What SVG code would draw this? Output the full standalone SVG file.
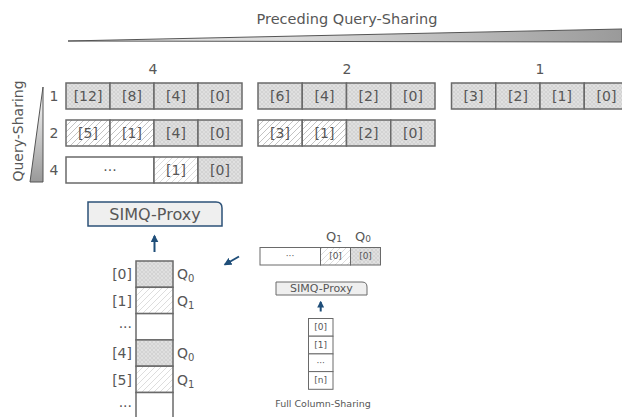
<svg xmlns="http://www.w3.org/2000/svg" width="622" height="417" viewBox="0 0 622 417">
  <defs>
    <pattern id="dots" width="4" height="4" patternUnits="userSpaceOnUse">
      <rect width="4" height="4" fill="#dedede"/>
      <circle cx="2" cy="2" r="1.3" fill="#f5f5f5" stroke="#b4b4b4" stroke-width="0.5"/>
    </pattern>
    <pattern id="hatch" width="6" height="6" patternUnits="userSpaceOnUse">
      <rect width="6" height="6" fill="#ffffff"/>
      <path d="M-1,7 L7,-1 M-1,1 L1,-1 M5,7 L7,5" stroke="#b4b4b4" stroke-width="0.8"/>
    </pattern>
    <pattern id="hatchLight" width="6" height="6" patternUnits="userSpaceOnUse">
      <rect width="6" height="6" fill="#ffffff"/>
      <path d="M-1,7 L7,-1 M-1,1 L1,-1 M5,7 L7,5" stroke="#d4d4d4" stroke-width="0.8"/>
    </pattern>
    <linearGradient id="wedgeH" x1="0" y1="0" x2="1" y2="0">
      <stop offset="0" stop-color="#e6e6e6"/>
      <stop offset="0.4" stop-color="#dcdcdc"/>
      <stop offset="1" stop-color="#9a9a9a"/>
    </linearGradient>
    <linearGradient id="wedgeV" x1="0" y1="0" x2="0" y2="1">
      <stop offset="0" stop-color="#ffffff"/>
      <stop offset="1" stop-color="#999999"/>
    </linearGradient>
    <marker id="arrow" viewBox="0 0 10 10" refX="8" refY="5" markerWidth="4" markerHeight="4" orient="auto">
      <path d="M0,0 L10,5 L0,10 z" fill="#1f4e79"/>
    </marker>
    <marker id="arrowSmall" viewBox="0 0 10 10" refX="8" refY="5" markerWidth="3.5" markerHeight="3.5" orient="auto">
      <path d="M0,0 L10,5 L0,10 z" fill="#1f4e79"/>
    </marker>
  </defs>
  <style>
    text { font-family: "DejaVu Sans", "Liberation Sans", sans-serif; fill: #575757; }
    .lbl { font-size: 14px; text-anchor: middle; dominant-baseline: central; }
    .sm { font-size: 9px; text-anchor: middle; dominant-baseline: central; }
    .end { text-anchor: end; }
    .start { text-anchor: start; }
    .cell { stroke: #6a6a6a; stroke-width: 1.5; }
    .cellS { stroke: #6a6a6a; stroke-width: 1; }
    .d { fill: url(#dots); }
    .h { fill: url(#hatch); }
    .hl { fill: url(#hatchLight); }
    .w { fill: #ffffff; }
    .proxy { fill: #efefef; stroke: #2d5278; stroke-width: 1.5; }
    .proxyS { fill: #efefef; stroke: #6a6a6a; stroke-width: 1; }
    .conn { stroke: #1f4e79; stroke-width: 2; fill: none; }
  </style>

  <!-- header: preceding query-sharing wedge -->
  <g id="header">
    <text x="347" y="19" class="lbl" style="font-size:14.5px">Preceding Query-Sharing</text>
    <path d="M68,41 L622,29 L622,42 Z" fill="url(#wedgeH)" stroke="#555555" stroke-width="1"/>
  </g>

  <!-- side axis: query-sharing wedge -->
  <g id="axis">
    <text x="18" y="131" class="lbl" transform="rotate(-90 18 131)">Query-Sharing</text>
    <path d="M43,87 L43,182 L30,182 Z" fill="url(#wedgeV)" stroke="#555555" stroke-width="1"/>
    <text x="54" y="96" class="lbl">1</text>
    <text x="54" y="133" class="lbl">2</text>
    <text x="54" y="170" class="lbl">4</text>
  </g>

  <!-- group: 4 -->
  <g id="group4">
    <text x="153" y="69" class="lbl">4</text>
    <rect x="66" y="83" width="44" height="26" class="cell d"/>
    <rect x="110" y="83" width="44" height="26" class="cell d"/>
    <rect x="154" y="83" width="44" height="26" class="cell d"/>
    <rect x="198" y="83" width="44" height="26" class="cell d"/>
    <text x="88" y="96" class="lbl">[12]</text>
    <text x="132" y="96" class="lbl">[8]</text>
    <text x="176" y="96" class="lbl">[4]</text>
    <text x="220" y="96" class="lbl">[0]</text>

    <rect x="66" y="120" width="44" height="26" class="cell h"/>
    <rect x="110" y="120" width="44" height="26" class="cell h"/>
    <rect x="154" y="120" width="44" height="26" class="cell d"/>
    <rect x="198" y="120" width="44" height="26" class="cell d"/>
    <text x="88" y="133" class="lbl">[5]</text>
    <text x="132" y="133" class="lbl">[1]</text>
    <text x="176" y="133" class="lbl">[4]</text>
    <text x="220" y="133" class="lbl">[0]</text>

    <rect x="66" y="157" width="88" height="26" class="cell w"/>
    <rect x="154" y="157" width="44" height="26" class="cell hl"/>
    <rect x="198" y="157" width="44" height="26" class="cell d"/>
    <text x="110" y="170" class="lbl">···</text>
    <text x="176" y="170" class="lbl">[1]</text>
    <text x="220" y="170" class="lbl">[0]</text>
  </g>

  <!-- group: 2 -->
  <g id="group2">
    <text x="347" y="69" class="lbl">2</text>
    <rect x="258" y="83" width="44.25" height="26" class="cell d"/>
    <rect x="302.25" y="83" width="44.25" height="26" class="cell d"/>
    <rect x="346.5" y="83" width="44.25" height="26" class="cell d"/>
    <rect x="390.75" y="83" width="44.25" height="26" class="cell d"/>
    <text x="280" y="96" class="lbl">[6]</text>
    <text x="324.5" y="96" class="lbl">[4]</text>
    <text x="368.5" y="96" class="lbl">[2]</text>
    <text x="413" y="96" class="lbl">[0]</text>

    <rect x="258" y="120" width="44.25" height="26" class="cell h"/>
    <rect x="302.25" y="120" width="44.25" height="26" class="cell h"/>
    <rect x="346.5" y="120" width="44.25" height="26" class="cell d"/>
    <rect x="390.75" y="120" width="44.25" height="26" class="cell d"/>
    <text x="280" y="133" class="lbl">[3]</text>
    <text x="324.5" y="133" class="lbl">[1]</text>
    <text x="368.5" y="133" class="lbl">[2]</text>
    <text x="413" y="133" class="lbl">[0]</text>
  </g>

  <!-- group: 1 -->
  <g id="group1">
    <text x="540" y="69" class="lbl">1</text>
    <rect x="451.5" y="83" width="44.25" height="26" class="cell d"/>
    <rect x="495.75" y="83" width="44.25" height="26" class="cell d"/>
    <rect x="540" y="83" width="44.25" height="26" class="cell d"/>
    <rect x="584.25" y="83" width="44.25" height="26" class="cell d"/>
    <text x="473.5" y="96" class="lbl">[3]</text>
    <text x="518" y="96" class="lbl">[2]</text>
    <text x="562" y="96" class="lbl">[1]</text>
    <text x="606.5" y="96" class="lbl">[0]</text>
  </g>

  <!-- proxy above the column -->
  <g id="proxy">
    <path d="M88,202 L216,202 Q222,202 222,208 L222,226 L88,226 Z" class="proxy"/>
    <text x="155" y="214.5" class="lbl" style="font-size:16px">SIMQ-Proxy</text>
  </g>

  <!-- interleaved column -->
  <g id="column">
    <rect x="136" y="261" width="37" height="26.3" class="cell d"/>
    <rect x="136" y="287.3" width="37" height="26.3" class="cell hl"/>
    <rect x="136" y="313.6" width="37" height="26.3" class="cell w"/>
    <rect x="136" y="339.9" width="37" height="26.3" class="cell d"/>
    <rect x="136" y="366.2" width="37" height="26.3" class="cell hl"/>
    <rect x="136" y="392.5" width="37" height="30" class="cell w"/>
    <text x="132" y="274" class="lbl end">[0]</text>
    <text x="132" y="300.5" class="lbl end">[1]</text>
    <text x="132" y="326.5" class="lbl end">···</text>
    <text x="132" y="353" class="lbl end">[4]</text>
    <text x="132" y="379.5" class="lbl end">[5]</text>
    <text x="132" y="405.5" class="lbl end">···</text>
    <text x="177" y="274" class="lbl start">Q<tspan dy="4" font-size="10">0</tspan></text>
    <text x="177" y="300.5" class="lbl start">Q<tspan dy="4" font-size="10">1</tspan></text>
    <text x="177" y="353" class="lbl start">Q<tspan dy="4" font-size="10">0</tspan></text>
    <text x="177" y="379.5" class="lbl start">Q<tspan dy="4" font-size="10">1</tspan></text>
  </g>

  <!-- full column-sharing inset -->
  <g id="fullSharing">
    <text x="334" y="236" class="lbl" style="font-size:13px">Q<tspan dy="3" font-size="9">1</tspan></text>
    <text x="363" y="236" class="lbl" style="font-size:13px">Q<tspan dy="3" font-size="9">0</tspan></text>
    <rect x="260" y="247.5" width="60.5" height="17.5" class="cellS w"/>
    <rect x="320.5" y="247.5" width="30" height="17.5" class="cellS hl"/>
    <rect x="350.5" y="247.5" width="30" height="17.5" class="cellS d"/>
    <text x="290" y="256" class="sm">···</text>
    <text x="335.5" y="256" class="sm">[0]</text>
    <text x="365.5" y="256" class="sm">[0]</text>

    <path d="M276,282 L362,282 Q367,282 367,287 L367,295 L276,295 Z" class="proxyS"/>
    <text x="321.5" y="288.5" class="sm" style="font-size:11px">SIMQ-Proxy</text>

    <rect x="308.5" y="318.5" width="24.5" height="17.7" class="cellS w"/>
    <rect x="308.5" y="336.2" width="24.5" height="17.7" class="cellS w"/>
    <rect x="308.5" y="353.9" width="24.5" height="17.7" class="cellS w"/>
    <rect x="308.5" y="371.6" width="24.5" height="17.7" class="cellS w"/>
    <text x="320.7" y="327.3" class="sm">[0]</text>
    <text x="320.7" y="345" class="sm">[1]</text>
    <text x="320.7" y="362.7" class="sm">···</text>
    <text x="320.7" y="380.4" class="sm">[n]</text>

    <text x="323" y="403.5" class="sm" style="font-size:9.5px">Full Column-Sharing</text>
  </g>

  <!-- connectors -->
  <g id="connectors">
    <line x1="154.5" y1="252" x2="154.5" y2="236" class="conn" marker-end="url(#arrow)"/>
    <line x1="239" y1="256.5" x2="225" y2="264.5" class="conn" marker-end="url(#arrow)"/>
    <line x1="320.7" y1="311.5" x2="320.7" y2="302" class="conn" stroke-width="1.3" marker-end="url(#arrowSmall)"/>
  </g>
</svg>
